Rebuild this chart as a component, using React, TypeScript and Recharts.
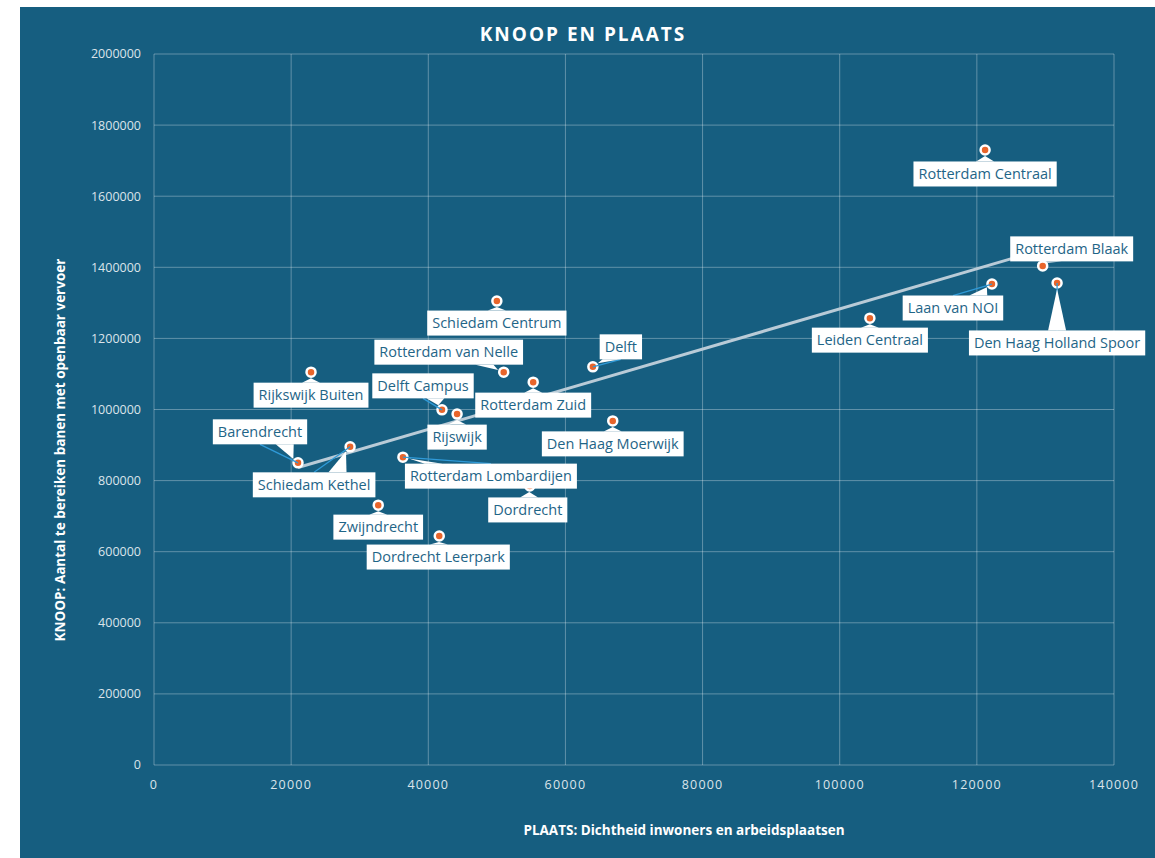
import { ScatterChart, Scatter, XAxis, YAxis, CartesianGrid } from "recharts";

// stations (knoop = bereikbare banen, plaats = dichtheid)
const stations = [
  "Rotterdam Centraal", "Rotterdam Blaak", "Laan van NOI", "Den Haag Holland Spoor",
  "Leiden Centraal", "Delft", "Schiedam Centrum", "Rotterdam van Nelle", "Rotterdam Zuid",
  "Rijkswijk Buiten", "Delft Campus", "Rijswijk", "Den Haag Moerwijk", "Barendrecht",
  "Schiedam Kethel", "Rotterdam Lombardijen", "Dordrecht", "Zwijndrecht", "Dordrecht Leerpark",
];
const plaats = [
  121200, 129600, 122200, 131700, 104400, 64000, 50000, 51000, 55300,
  22900, 42000, 44200, 66900, 21000, 28600, 36300, 54800, 32700, 41600,
];
const knoop = [
  1730000, 1404000, 1353000, 1356000, 1257000, 1120000, 1305000, 1105000, 1077000,
  1105000, 999000, 987000, 968000, 850000, 895000, 866000, 785000, 731000, 644000,
];
const xTicks = [0, 20000, 40000, 60000, 80000, 100000, 120000, 140000];
const yTicks = [0, 200000, 400000, 600000, 800000, 1000000, 1200000, 1400000, 1600000, 1800000, 2000000];

// label box offset from the point (px), and which labels get a leader line
const labelOffset: Record<string, [number, number]> = {
  "Rotterdam Centraal": [0, 24],
  "Rotterdam Blaak": [29, -17],
  "Laan van NOI": [-39, 24],
  "Den Haag Holland Spoor": [0, 60],
  "Leiden Centraal": [0, 22],
  "Delft": [28, -20],
  "Schiedam Centrum": [0, 22],
  "Rotterdam van Nelle": [-55, -20],
  "Rotterdam Zuid": [0, 23],
  "Rijkswijk Buiten": [0, 23],
  "Delft Campus": [-19, -24],
  "Rijswijk": [0, 23],
  "Den Haag Moerwijk": [0, 23],
  "Barendrecht": [-38, -31],
  "Schiedam Kethel": [-36, 38],
  "Rotterdam Lombardijen": [88, 19],
  "Dordrecht": [-2, 24],
  "Zwijndrecht": [0, 22],
  "Dordrecht Leerpark": [-1, 21],
};
const leaders = ["Barendrecht", "Laan van NOI", "Den Haag Holland Spoor", "Rotterdam Lombardijen", "Delft Campus", "Schiedam Kethel", "Delft"];

const points = stations.map((name, i) => ({ name, plaats: plaats[i], knoop: knoop[i] }));

// linear trendline (least squares), like Excel
const n = plaats.length;
const mx = plaats.reduce((a, b) => a + b, 0) / n;
const my = knoop.reduce((a, b) => a + b, 0) / n;
let sxy = 0, sxx = 0;
for (let i = 0; i < n; i++) {
  sxy += (plaats[i] - mx) * (knoop[i] - my);
  sxx += (plaats[i] - mx) ** 2;
}
const slope = sxy / sxx;
const icpt = my - slope * mx;
const xMin = Math.min(...plaats);
const xMax = Math.max(...plaats);
const trend = [
  { plaats: xMin, knoop: icpt + slope * xMin },
  { plaats: xMax, knoop: icpt + slope * xMax },
];

const BG = "#165e80";
const LABEL_FONT = '14.5px "Open Sans"';
const TEXT_BLUE = "#1f6587";

let canvas: HTMLCanvasElement | null = null;
function textWidth(s: string) {
  if (!canvas) canvas = document.createElement("canvas");
  const ctx = canvas.getContext("2d")!;
  ctx.font = LABEL_FONT;
  return ctx.measureText(s).width;
}

const Marker = (props: any) => {
  const { cx, cy } = props;
  return <circle cx={cx} cy={cy} r={4.5} fill="#e8652b" stroke="#fff" strokeWidth={2.5} />;
};

const Callout = (props: any) => {
  const { cx, cy, payload } = props;
  const name = payload.name as string;
  const [dx, dy] = labelOffset[name] || [0, 22];
  const w = textWidth(name) + 10;
  const h = 25;
  const bx = cx + dx;
  const by = cy + dy;
  const left = bx - w / 2;
  const top = by - h / 2;
  // wedge toward the point
  const len = Math.hypot(bx - cx, by - cy) || 1;
  const tx = cx + ((bx - cx) / len) * 6;
  const ty = cy + ((by - cy) / len) * 6;
  let base: [number, number][];
  if (Math.abs(dy) * w >= Math.abs(dx) * h) {
    const ey = dy > 0 ? top : top + h;
    const target = cx + (bx - cx) * 0.35;
    const bxC = Math.min(Math.max(target, left + 12), left + w - 12);
    base = [[bxC - 9, ey], [bxC + 9, ey]];
  } else {
    const ex = dx > 0 ? left : left + w;
    const byC = Math.min(Math.max(cy, top + 7), top + h - 7);
    base = [[ex, byC - 6], [ex, byC + 6]];
  }
  const hasLeader = leaders.includes(name);
  const edgeY = dy > 0 ? top : top + h;
  return (
    <g>
      {hasLeader && (
        <line x1={cx} y1={cy} x2={bx} y2={edgeY} stroke="#2f9ad8" strokeWidth={1.3} />
      )}
      <polygon
        points={`${tx},${ty} ${base[0][0]},${base[0][1]} ${base[1][0]},${base[1][1]}`}
        fill="#fff"
      />
      <rect x={left} y={top} width={w} height={h} fill="#fff" />
      <text
        x={bx}
        y={by + 5}
        textAnchor="middle"
        fill={TEXT_BLUE}
        style={{ font: LABEL_FONT }}
      >
        {name}
      </text>
    </g>
  );
};

export default function App() {
  return (
    <div
      style={{
        position: "absolute",
        left: 20,
        top: 7,
        width: 1135,
        height: 851,
        background: BG,
        fontFamily: '"Open Sans", sans-serif',
      }}
    >
      <ScatterChart width={1135} height={851} margin={{ top: 47, right: 41, bottom: 53, left: 0 }}>
        <CartesianGrid stroke="rgba(255,255,255,0.32)" strokeWidth={1} />
        <XAxis
          type="number"
          dataKey="plaats"
          domain={[0, 140000]}
          ticks={xTicks}
          axisLine={false}
          tickLine={false}
          height={40}
          tick={{ fill: "#dbe4ea", fontSize: 12.5, letterSpacing: 1.2 }}
          tickMargin={9}
        />
        <YAxis
          type="number"
          dataKey="knoop"
          domain={[0, 2000000]}
          ticks={yTicks}
          axisLine={false}
          tickLine={false}
          width={134}
          tick={{ fill: "#dbe4ea", fontSize: 12.5 }}
          tickMargin={7}
        />
        <Scatter
          data={trend}
          line={{ stroke: "#b9cbd7", strokeWidth: 3 }}
          shape={() => <g />}
          isAnimationActive={false}
        />
        <Scatter data={points} shape={Marker} isAnimationActive={false} />
        <Scatter data={points} shape={Callout} isAnimationActive={false} />
        <text
          x={563}
          y={34}
          textAnchor="middle"
          fill="#fff"
          style={{ fontSize: 19, fontWeight: 700, letterSpacing: 2 }}
        >
          KNOOP EN PLAATS
        </text>
        <text
          x={664}
          y={828}
          textAnchor="middle"
          fill="#fff"
          style={{ fontSize: 13.5, fontWeight: 700 }}
        >
          PLAATS: Dichtheid inwoners en arbeidsplaatsen
        </text>
        <text
          x={45}
          y={443}
          textAnchor="middle"
          fill="#fff"
          transform="rotate(-90 45 443)"
          style={{ fontSize: 13.5, fontWeight: 700 }}
        >
          KNOOP:  Aantal te bereiken banen met openbaar vervoer
        </text>
      </ScatterChart>
    </div>
  );
}
